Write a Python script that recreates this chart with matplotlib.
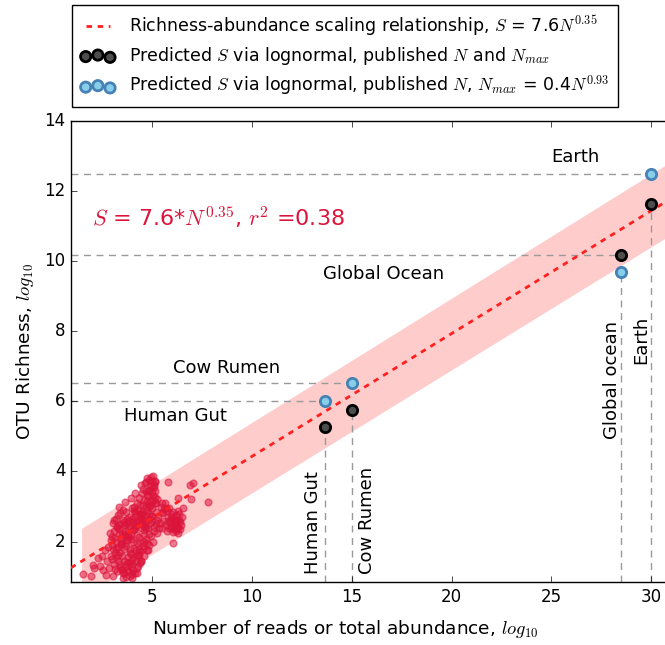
import numpy as np
import matplotlib
matplotlib.use('Agg')
from matplotlib import pyplot as plt

plt.style.use('classic')
plt.rcParams['mathtext.fontset'] = 'cm'
plt.rcParams['font.family'] = 'DejaVu Sans'

# scatter cloud of microbial communities (log10 N, log10 S)
obs_x = [1.54, 1.91, 2.05, 2.10, 2.30, 2.46, 2.40, 2.55, 2.72, 2.63, 2.80, 2.68, 2.85, 2.95,
         2.88, 3.05, 2.95, 3.00, 3.10, 3.20, 3.38, 3.55, 3.30, 3.70, 3.97, 4.22, 4.10, 4.35,
         4.47, 4.55, 4.64, 4.75, 4.85, 4.95, 5.05, 5.12, 4.90, 5.00, 4.70, 5.15, 4.80, 5.05,
         4.60, 4.90, 5.18, 4.40, 4.70, 5.00, 5.20, 4.50, 4.85, 4.20, 3.85, 4.00, 4.35, 4.65,
         5.00, 5.20, 3.60, 3.90, 4.15, 4.45, 4.80, 5.10, 3.35, 3.65, 3.95, 4.25, 4.60, 4.95,
         3.15, 3.45, 3.75, 4.05, 4.40, 4.75, 5.05, 3.05, 3.30, 3.60, 3.90, 4.20, 4.55, 4.85,
         3.20, 3.50, 3.80, 4.10, 4.45, 4.60, 3.10, 3.40, 3.70, 4.00, 4.30, 4.45, 3.25, 3.55,
         3.85, 4.15, 4.25, 3.05, 3.55, 3.88, 4.22, 4.39, 3.70, 4.00,
         3.50, 3.80, 4.05, 4.30, 4.55, 4.75, 3.40, 3.65, 3.95, 4.25, 4.50, 4.85, 3.30, 3.60,
         3.90, 4.20, 3.75, 4.05, 3.45, 3.75, 4.15, 4.65, 4.95, 5.10, 4.85, 4.60, 4.35, 3.20,
         3.00, 4.75, 3.35, 3.62, 3.92, 4.12, 4.42, 4.68, 4.98, 3.48, 3.78, 4.08, 4.38, 4.72,
         5.39, 5.30, 5.47, 5.64, 5.14, 5.72, 5.80, 5.90, 6.00, 6.10, 6.20, 6.30, 6.40, 6.48,
         6.35, 6.20, 6.05, 5.95, 6.10, 6.25, 6.40, 6.30, 5.85, 5.75, 6.15, 6.00, 5.85, 6.56,
         6.31, 6.93, 5.81, 6.89, 7.06, 7.81, 6.06, 4.80, 5.50, 5.60, 5.25, 5.55, 5.68, 5.42,
         3.12, 3.28, 3.42, 3.58, 3.72, 3.88, 4.02, 4.18, 4.32, 4.48, 4.62, 4.78, 4.92, 5.08,
         3.22, 3.38, 3.52, 3.68, 3.82, 3.98, 4.12, 4.28, 4.42, 4.58, 4.72, 4.88, 5.02, 5.16,
         3.18, 3.33, 3.48, 3.63, 3.78, 3.93, 4.08, 4.23, 4.38, 4.53, 4.68, 4.83, 4.98, 5.13,
         3.08, 3.25, 3.43, 3.58, 3.75, 3.92, 4.07, 4.22, 4.37, 4.52, 4.67, 4.82, 4.97, 5.10,
         2.98, 3.15, 3.32, 3.50, 3.66, 3.83, 4.00, 4.16, 4.33, 4.50, 4.66, 4.82, 5.22, 5.26,
         5.58, 5.70, 5.92, 6.02, 6.12, 6.22, 6.35, 6.45, 5.95, 6.18, 6.28, 5.78, 5.48, 5.35]
obs_y = [1.09, 1.01, 1.34, 1.24, 1.53, 1.58, 1.30, 1.20, 1.44, 1.77, 1.86, 1.05, 1.25, 1.60,
         2.25, 2.53, 2.05, 1.90, 2.30, 2.65, 2.81, 2.91, 2.75, 2.85, 2.96, 3.10, 3.00, 3.25,
         3.38, 3.50, 3.67, 3.81, 3.75, 3.85, 3.86, 3.70, 3.60, 3.55, 3.45, 3.45, 3.30, 3.30,
         3.20, 3.15, 3.10, 3.05, 3.00, 2.95, 2.85, 2.85, 2.80, 2.80, 2.70, 2.65, 2.60, 2.60,
         2.60, 2.50, 2.55, 2.45, 2.40, 2.40, 2.40, 2.30, 2.35, 2.30, 2.20, 2.20, 2.20, 2.15,
         2.10, 2.10, 2.05, 2.00, 2.00, 1.95, 2.00, 1.80, 1.85, 1.80, 1.80, 1.75, 1.80, 1.90,
         1.55, 1.60, 1.55, 1.55, 1.45, 1.60, 1.35, 1.35, 1.30, 1.35, 1.30, 1.45, 1.15, 1.10,
         1.15, 1.10, 1.25, 1.01, 0.96, 1.01, 1.10, 1.39, 0.98, 0.97,
         2.00, 2.40, 2.55, 2.90, 3.05, 3.15, 1.70, 1.95, 1.65, 1.95, 2.50, 2.65, 1.45, 1.45,
         1.40, 1.45, 1.20, 1.20, 2.50, 2.65, 2.70, 2.75, 3.05, 3.55, 3.45, 2.00, 1.80, 2.00,
         1.50, 1.75, 3.00, 3.12, 3.25, 3.40, 3.60, 3.70, 3.72, 2.25, 2.15, 2.35, 2.70, 2.90,
         2.53, 2.70, 3.10, 3.10, 3.10, 2.86, 2.70, 2.55, 2.45, 2.35, 2.30, 2.40, 2.55, 2.70,
         2.80, 2.75, 2.85, 2.65, 2.60, 2.55, 2.35, 2.24, 2.40, 2.30, 2.48, 2.70, 2.95, 2.96,
         3.24, 3.21, 3.70, 3.62, 3.67, 3.13, 1.96, 1.77, 2.40, 2.60, 2.25, 2.85, 2.95, 3.00,
         1.22, 1.62, 1.92, 2.18, 1.38, 1.68, 2.32, 2.58, 2.12, 2.78, 2.42, 3.08, 2.72, 3.62,
         2.42, 1.28, 2.62, 1.88, 2.12, 1.48, 2.88, 1.62, 2.62, 2.32, 3.32, 2.52, 3.18, 3.72,
         1.78, 2.22, 1.18, 2.48, 1.42, 2.08, 1.82, 2.48, 1.72, 2.62, 2.08, 2.98, 3.42, 3.28,
         2.62, 2.42, 1.92, 1.12, 2.52, 1.28, 2.88, 1.62, 2.78, 1.88, 2.38, 2.22, 2.72, 2.42,
         2.12, 1.68, 2.48, 1.22, 2.18, 2.58, 1.08, 2.48, 1.62, 2.78, 2.52, 3.48, 2.62, 3.22,
         2.92, 2.48, 2.78, 2.28, 2.62, 2.42, 2.62, 2.48, 2.38, 2.62, 2.88, 2.58, 2.82, 2.38]

# fit: log10 S = b0 + b1 * log10 N
fit_b0 = 0.93
fit_b1 = 0.35
fit_x = [0.92, 31.0]

# shaded prediction band
band_x = [1.46, 31.0]
band_lo = [0.40, 10.75]
band_hi = [2.38, 12.83]

# extrapolations for large systems
sys_N = [13.66, 15.0, 28.5, 30.0]
S_pub = [5.27, 5.76, 10.17, 11.63]      # published N and Nmax
S_nmax = [6.01, 6.53, 9.69, 12.48]      # Nmax = 0.4 N^0.93

fig = plt.figure(figsize=(6.65, 6.45), dpi=100, facecolor='white')
ax = fig.add_axes([0.1065, 0.0977, 0.9025, 0.7153])

ax.fill_between(band_x, band_lo, band_hi, color='red', alpha=0.2, lw=0)
ax.scatter(obs_x, obs_y, s=24, c='crimson', edgecolors='crimson', alpha=0.55, lw=1, zorder=2)

fx = np.array(fit_x)
line, = ax.plot(fx, fit_b0 + fit_b1 * fx, '--', color='#ff2020', lw=2, dashes=(4, 4), zorder=3)

for i in range(len(sys_N)):
    top = max(S_pub[i], S_nmax[i])
    low = min(S_pub[i], S_nmax[i])
    ax.plot([0.92, sys_N[i]], [top, top], '--', color='0.6', lw=1, dashes=(5, 4), zorder=1)
    ax.plot([sys_N[i], sys_N[i]], [0.85, low], '--', color='0.6', lw=1, dashes=(5, 4), zorder=1)

pb = ax.scatter(sys_N, S_pub, s=55, c='0.3', edgecolors='k', lw=2, zorder=4)
pn = ax.scatter(sys_N, S_nmax, s=55, c='SkyBlue', edgecolors='SteelBlue', lw=2, zorder=4)

# labels
ax.text(6.15, 5.59, 'Human Gut', fontsize=13, ha='center', va='center')
ax.text(8.75, 6.95, 'Cow Rumen', fontsize=13, ha='center', va='center')
ax.text(16.6, 9.63, 'Global Ocean', fontsize=13, ha='center', va='center')
ax.text(26.2, 12.97, 'Earth', fontsize=13, ha='center', va='center')
ax.text(13.06, 2.53, 'Human Gut', fontsize=13, rotation=90, ha='center', va='center')
ax.text(15.77, 2.6, 'Cow Rumen', fontsize=13, rotation=90, ha='center', va='center')
ax.text(28.05, 6.6, 'Global ocean', fontsize=13, rotation=90, ha='center', va='center')
ax.text(29.5, 7.75, 'Earth', fontsize=13, rotation=90, ha='center', va='center')

ax.text(1.98, 11.26, '$S$ = 7.6*$N^{0.35}$, $r^2$ =0.38', fontsize=16, color='crimson',
        ha='left', va='center')

ax.set_xlim(0.92, 31.0)
ax.set_ylim(0.85, 14)
ax.set_xticks([5, 10, 15, 20, 25, 30])
ax.set_yticks([2, 4, 6, 8, 10, 12, 14])
ax.tick_params(labelsize=12)
ax.set_xlabel('Number of reads or total abundance, $log_{10}$', fontsize=13.3, labelpad=9, x=0.458)
ax.set_ylabel('OTU Richness, $log_{10}$', fontsize=13.3, labelpad=6)

fig.legend([line, pb, pn],
           ['Richness-abundance scaling relationship, $S$ = 7.6$N^{0.35}$',
            'Predicted $S$ via lognormal, published $N$ and $N_{max}$',
            'Predicted $S$ via lognormal, published $N$, $N_{max}$ = 0.4$N^{0.93}$'],
           loc='upper left', bbox_to_anchor=(0.108, 0.992), borderaxespad=0,
           fontsize=12.5, scatterpoints=3, handlelength=2.0, labelspacing=0.4,
           borderpad=0.5, fancybox=False, frameon=True)

fig.savefig('out.png', dpi=100, facecolor='white')
